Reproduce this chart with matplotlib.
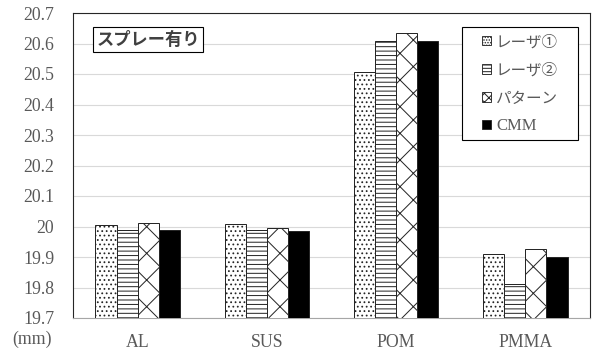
import numpy as np
import matplotlib.pyplot as plt
from matplotlib.patches import Patch, Rectangle

# data
categories = ['AL', 'SUS', 'POM', 'PMMA']
series_names = ['レーザ①', 'レーザ②', 'パターン', 'CMM']
laser1 = [20.005, 20.008, 20.506, 19.909]
laser2 = [19.990, 19.987, 20.609, 19.812]
pattern = [20.011, 19.995, 20.633, 19.927]
cmm = [19.989, 19.985, 20.607, 19.899]
yticks = [19.7, 19.8, 19.9, 20.0, 20.1, 20.2, 20.3, 20.4, 20.5, 20.6, 20.7]
ytick_labels = ['19.7', '19.8', '19.9', '20', '20.1', '20.2', '20.3', '20.4', '20.5', '20.6', '20.7']

# dpi 80 so the hatch spacing comes out close to the original
DPI = 80
plt.rcParams['hatch.linewidth'] = 0.9
fig = plt.figure(figsize=(595 / DPI, 354 / DPI), dpi=DPI)
ax = fig.add_axes([73 / 595, 1 - 318 / 354, (590 - 73) / 595, (318 - 13) / 354])

serif = 'Liberation Serif'
jp = ['Noto Sans CJK JP', 'DejaVu Sans']
txt_color = '#595959'

x = np.arange(len(categories))
w = 0.163
styles = [
    dict(facecolor='white', hatch='...'),
    dict(facecolor='white', hatch='---'),
    dict(facecolor='white', hatch='x'),
    dict(facecolor='black', hatch=None),
]
all_vals = [laser1, laser2, pattern, cmm]
for i, (vals, st) in enumerate(zip(all_vals, styles)):
    base = 19.7
    ax.bar(x + (i - 1.5) * w, np.array(vals) - base, w, bottom=base,
           edgecolor='#262626', linewidth=0.9, zorder=3, **st)

ax.set_xlim(-0.5, len(categories) - 0.5)
ax.set_ylim(19.7, 20.7)
ax.set_yticks(yticks)
ax.set_yticklabels(ytick_labels)
ax.set_xticks(x)
ax.set_xticklabels(categories)
ax.tick_params(length=0, labelsize=16, labelcolor=txt_color)
ax.tick_params(axis='y', pad=17)
ax.tick_params(axis='x', pad=14)
for lab in ax.get_xticklabels() + ax.get_yticklabels():
    lab.set_family(serif)

ax.grid(axis='y', color='#d9d9d9', linewidth=1.0, zorder=0)
ax.set_axisbelow(True)
for side in ['top', 'left', 'right']:
    ax.spines[side].set_color('#262626')
    ax.spines[side].set_linewidth(1.0)
ax.spines['bottom'].set_color('#a6a6a6')
ax.spines['bottom'].set_linewidth(1.0)

fig.text(32 / 595, 1 - 339 / 354, '(mm)', fontsize=16, family=serif,
         color=txt_color, ha='center', va='center')

# label box
ax.text(0.145, 0.912, 'スプレー有り', transform=ax.transAxes, fontsize=15.5,
        fontweight='bold', family=jp, color='#404040', ha='center', va='center',
        bbox=dict(boxstyle='square,pad=0.2', facecolor='white',
                  edgecolor='black', linewidth=1.0), zorder=5)

# legend: frame drawn separately so the padding matches the original
lx0, lx1, ly0, ly1 = 0.752, 0.977, 0.584, 0.954
ax.add_patch(Rectangle((lx0, ly0), lx1 - lx0, ly1 - ly0, transform=ax.transAxes,
                       facecolor='white', edgecolor='black', linewidth=1.0, zorder=5))
leg_styles = [
    dict(facecolor='white', hatch='.....'),
    dict(facecolor='white', hatch='----'),
    dict(facecolor='white', hatch='xxx'),
    dict(facecolor='black', hatch=None),
]
handles = [Patch(edgecolor='#262626', linewidth=0.8, **st) for st in leg_styles]
leg = ax.legend(handles, series_names, loc='center',
                bbox_to_anchor=((lx0 + lx1) / 2, (ly0 + ly1) / 2), frameon=False,
                prop={'family': jp, 'size': 14},
                handlelength=0.55, handleheight=0.55, handletextpad=0.35,
                labelspacing=0.72, borderpad=0.3, borderaxespad=0)
leg.set_zorder(6)
for t in leg.get_texts():
    t.set_color(txt_color)
leg.get_texts()[3].set_family(serif)
leg.get_texts()[3].set_fontsize(15)

fig.savefig('out.png', dpi=DPI)
